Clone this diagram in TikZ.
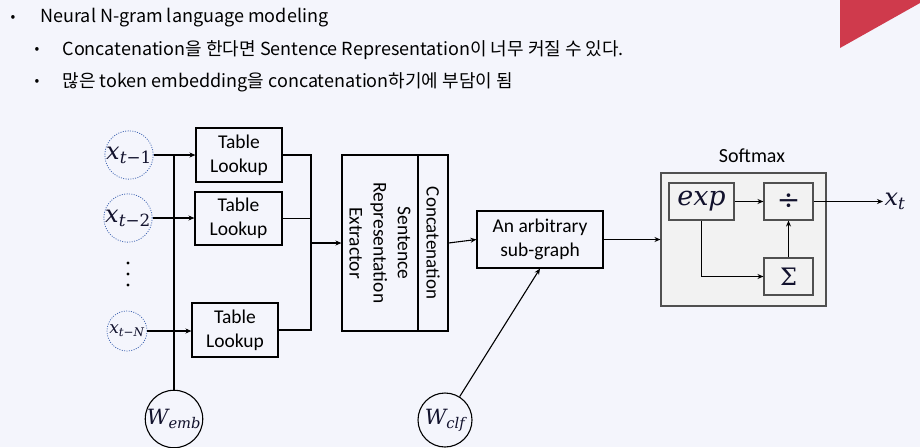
\documentclass[tikz,border=0pt]{standalone}
\usepackage{amsmath}
\usepackage{fontspec}
\setmainfont{Carlito}
\newfontfamily\krfont{Noto Sans CJK KR}
\newfontfamily\mf{DejaVu Serif}
\usetikzlibrary{arrows.meta,calc}
\definecolor{bgc}{RGB}{244,245,252}
\definecolor{redc}{RGB}{207,58,76}
\definecolor{dotblue}{RGB}{68,104,180}
\definecolor{boxgray}{RGB}{242,242,242}
\definecolor{edgegray}{RGB}{80,80,80}
\definecolor{mathc}{RGB}{18,18,45}
\newcommand{\mvar}[1]{\text{\mf\itshape #1}}
\newcommand{\mupr}[1]{\text{\mf #1}}
\begin{document}
\begin{tikzpicture}[x=1pt,y=-1pt,
  line width=1.1pt,
  arr/.style={-{Stealth[length=6pt,width=5pt]}},
  bullet/.style={font=\krfont\fontsize{14}{16}\selectfont, inner sep=0pt},
  btext/.style={font=\krfont\fontsize{18}{21}\selectfont, anchor=west, inner sep=0pt},
  tbox/.style={draw, minimum width=86pt, minimum height=54pt, inner sep=0pt, align=center,
    font=\fontsize{19.5}{24}\selectfont},
  incirc/.style={circle, draw=dotblue, line width=0.8pt, dash pattern=on 1pt off 1.4pt,
    minimum size=40pt, inner sep=0pt, text=mathc},
  wcirc/.style={circle, draw, line width=1.1pt, minimum size=54pt, inner sep=0pt, text=mathc},
  sbox/.style={draw=edgegray, fill=boxgray, line width=1.1pt, inner sep=0pt, text=mathc}
]
\fill[bgc] (0,0) rectangle (920,447);
\useasboundingbox (0,0) rectangle (920,447);
\fill[redc] (840,0) -- (920,0) -- (920,3) -- (840,48) -- cycle;

% bullets
\node[bullet] (d1) at (13,18) {•};
\node[btext] (b1) at (40,18) {Neural N-gram language modeling};
\node[bullet] (d2) at (37,50) {•};
\node[btext] (b2) at (62,50) {Concatenation을 한다면 Sentence Representation이 너무 커질 수 있다.};
\node[bullet] (d3) at (37,82) {•};
\node[btext] (b3) at (62,82) {많은 token embedding을 concatenation하기에 부담이 됨};

% inputs
\node[incirc] (c1) at (129,155) {\fontsize{24}{28}\selectfont$\mvar{x}_{\mvar{t}\mupr{−1}}$};
\node[incirc] (c2) at (128,218) {\fontsize{24}{28}\selectfont$\mvar{x}_{\mvar{t}\mupr{−2}}$};
\node[incirc] (cN) at (127,331) {\fontsize{17}{20}\selectfont$\mvar{x}_{\mvar{t}\mupr{−}\mvar{N}}$};
\fill (128,263) circle (1.6);
\fill (128,274) circle (1.6);
\fill (128,285) circle (1.6);

% table lookups
\node[tbox] (t1) at (239,155) {Table\\Lookup};
\node[tbox, minimum width=87pt, minimum height=53pt] (t2) at (238.5,218.5) {Table\\Lookup};
\node[tbox] (t3) at (235,330) {Table\\Lookup};

% W_emb
\node[wcirc] (we) at (174,419) {\fontsize{21}{24}\selectfont$\mvar{W}_{\mvar{emb}}$};
\draw[line width=2pt] (we.north) -- (we.north |- c1);

\draw[arr] (c1.east) -- (c1.east -| t1.west);
\draw[arr] (c2.east) -- (c2.east -| t2.west);
\draw[arr] (cN.east) -- (cN.east -| t3.west);

% extractor
\node[draw, minimum width=76pt, minimum height=176pt, inner sep=0pt] (ext) at (380,243) {};
\node[draw, minimum width=30pt, minimum height=176pt, inner sep=0pt] (cat) at (433,243) {};
\node[rotate=-90, align=center, font=\fontsize{19.5}{24}\selectfont] (extt) at (ext.center) {Sentence\\Representation\\Extractor};
\node[rotate=-90, font=\fontsize{19}{22}\selectfont] (catt) at (cat.center) {Concatenation};

\coordinate (m) at (311,243);
\draw (t1.east) -| (m);
\draw (t2.east) -| (m);
\draw (t3.east) -| (m);
\draw[arr] (m) -- (m -| ext.west);

% sub-graph
\node[tbox, minimum width=126pt, minimum height=57pt] (sub) at (540,239.5) {An arbitrary\\sub-graph};
\draw[arr] (cat.east) -- (sub.west);

\node[wcirc] (wc) at (445,420) {\fontsize{21}{24}\selectfont$\mvar{W}_{\mvar{clf}}$};
\draw[arr] (wc) -- (sub.south);

% softmax
\node[sbox, minimum width=165pt, minimum height=133pt] (smx) at (743.5,239.5) {};
\node[font=\fontsize{20}{24}\selectfont] (smxl) at (752,156) {Softmax};
\draw[arr] (sub.east) -- (smx.west);
\node[sbox, minimum width=65pt, minimum height=37pt] (exp) at (701.5,201.5) {\fontsize{27}{30}\selectfont\mf\itshape exp};
\node[sbox, minimum width=49pt, minimum height=37pt] (div) at (788.5,201.5) {\fontsize{28}{30}\selectfont\mf ÷};
\node[sbox, minimum width=49pt, minimum height=37pt] (sig) at (788.5,276.5) {\fontsize{24}{26}\selectfont\mf Σ};
\draw[arr] (exp.east) -- (div.west);
\draw[arr] (sig.north) -- (div.south);
\draw[arr] (exp.south) |- (sig.west);

\node[anchor=west, inner sep=1pt, text=mathc] (xt) at (883,201.5) {\fontsize{24}{28}\selectfont$\mvar{x}_{\mvar{t}}$};
\draw[arr] (div.east) -- (xt.west);
\end{tikzpicture}
\end{document}
